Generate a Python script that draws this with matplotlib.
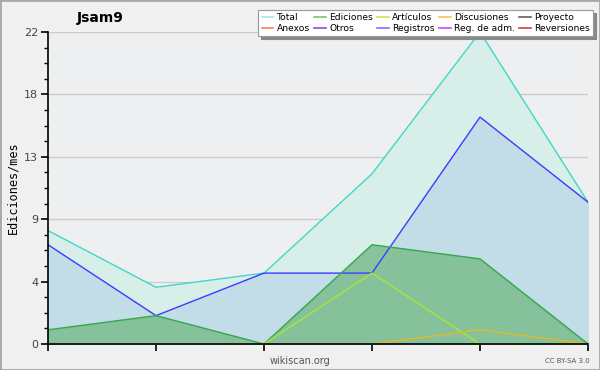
import matplotlib
matplotlib.use("Agg")
import matplotlib.pyplot as plt
import numpy as np
from matplotlib.lines import Line2D
from matplotlib.patches import Rectangle
from matplotlib.ticker import AutoMinorLocator

# six monthly points (no month labels shown on the chart)
months = [0, 1, 2, 3, 4, 5]
total = [8, 4, 5, 12, 22, 10]
ediciones_blue = [7, 2, 5, 5, 16, 10]
green_area = [1, 2, 0, 7, 6, 0]
articulos = [0, 0, 0, 5, 0, 0]
discusiones = [0, 0, 0, 0, 1, 0]

y_ticks = [0, 4.4, 8.8, 13.2, 17.6, 22]
y_tick_labels = ["0", "4", "9", "13", "18", "22"]

legend_labels = ["Total", "Ediciones", "Artículos", "Discusiones", "Proyecto",
                 "Anexos", "Otros", "Registros", "Reg. de adm.", "Reversiones"]
legend_colors = ["#a8e4e0", "#78c878", "#c8e850", "#f0c850", "#606060",
                 "#f08848", "#8848d8", "#7878f0", "#d048e0", "#e03838"]

fig = plt.figure(figsize=(6, 3.7), dpi=100)
fig.patch.set_facecolor("#f0f0f0")
fig.patches.append(Rectangle((0, 0), 1, 1, transform=fig.transFigure, fill=False,
                             edgecolor="#a8a8a8", linewidth=2))

ax = fig.add_axes([48 / 600, 1 - 344 / 370, 540 / 600, 312 / 370])
ax.set_facecolor("#eeeff1")

ax.fill_between(months, total, color="#d8efe9", zorder=1)
ax.plot(months, total, color="#40d8c8", linewidth=1.0, zorder=4)
ax.fill_between(months, ediciones_blue, color="#c2dde8", zorder=2)
ax.plot(months, ediciones_blue, color="#3c3cff", linewidth=1.0, zorder=4)
ax.fill_between(months, green_area, color="#7fbf94", alpha=0.9, zorder=3)
ax.plot(months, green_area, color="#38a850", linewidth=1.0, zorder=4)
ax.plot(months, articulos, color="#a8e830", linewidth=1.0, zorder=4)
ax.plot(months, discusiones, color="#e8b820", linewidth=1.0, zorder=4)

ax.set_xlim(0, 5)
ax.set_ylim(0, 22)
ax.set_yticks(y_ticks)
ax.set_yticklabels(y_tick_labels)
ax.yaxis.set_minor_locator(AutoMinorLocator(4))
ax.set_xticks(months)
ax.set_xticklabels([])
ax.grid(axis="y", color="#cccccc", linewidth=1.0, zorder=0)
ax.set_axisbelow(True)
for side in ["top", "right"]:
    ax.spines[side].set_visible(False)
for side in ["left", "bottom"]:
    ax.spines[side].set_linewidth(1.2)
    ax.spines[side].set_zorder(6)
ax.tick_params(axis="y", length=5, width=1.2, labelsize=8, labelcolor="#444444", pad=2)
ax.tick_params(axis="y", which="minor", length=3, width=1.0)
ax.tick_params(axis="x", length=5, width=1.2)

ax.set_ylabel("Ediciones/mes", family="DejaVu Sans Mono", fontsize=8.5, labelpad=3)

fig.text(100 / 600, 1 - 18 / 370, "Jsam9", fontsize=10, fontweight="bold",
         ha="center", va="center")
fig.text(300 / 600, 1 - 361 / 370, "wikiscan.org", fontsize=7, color="#555555",
         ha="center", va="center")
fig.text(590 / 600, 1 - 361 / 370, "CC BY-SA 3.0", fontsize=5, color="#555555",
         ha="right", va="center")

handles = [Line2D([], [], color=c, linewidth=1.2) for c in legend_colors]
# matplotlib fills legend columns first, so reorder into two rows of five
order = [0, 5, 1, 6, 2, 7, 3, 8, 4, 9]
leg = fig.legend([handles[i] for i in order], [legend_labels[i] for i in order],
                 ncol=5, loc="upper right", bbox_to_anchor=(593 / 600, 1 - 10 / 370),
                 fontsize=6.6, handlelength=1.3, handletextpad=0.35,
                 columnspacing=0.45, labelspacing=0.2, borderpad=0.35,
                 frameon=True, fancybox=False, shadow={"color": "#888888", "alpha": 1},
                 borderaxespad=0)
leg.get_frame().set_edgecolor("#999999")
leg.get_frame().set_linewidth(0.8)

fig.savefig("out.png", dpi=100, facecolor=fig.get_facecolor())
